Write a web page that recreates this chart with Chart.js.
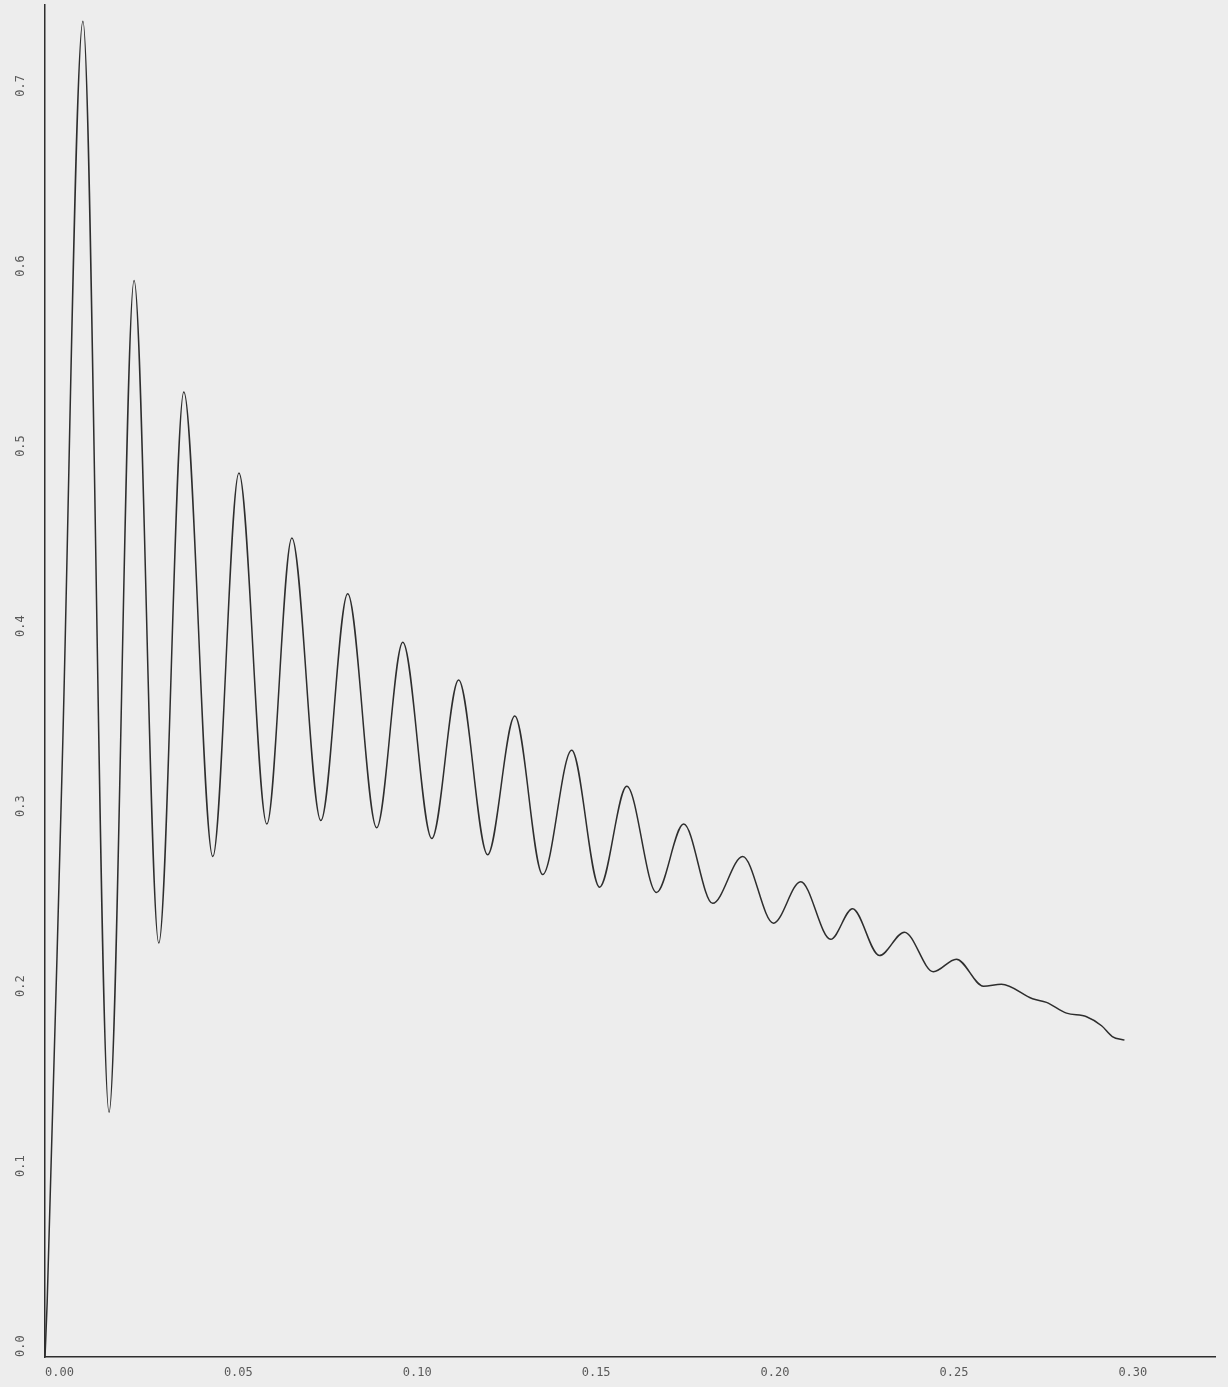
<!DOCTYPE html>
<html>
<head>
<meta charset="utf-8">
<script src="https://cdn.jsdelivr.net/npm/chart.js@4.4.1/dist/chart.umd.min.js"></script>
<style>
  html, body { margin: 0; padding: 0; background: #ededed; }
  #plot { display: block; }
</style>
</head>
<body>
<canvas id="plot" width="1228" height="1387"></canvas>
<script>
// damped response (peaks, troughs and the tail)
var timeValues = [
  0.0000, 0.0006, 0.0047, 0.0106,
  0.0179, 0.0249, 0.0318, 0.0388, 0.0469, 0.0542, 0.0620, 0.0690,
  0.0771, 0.0846, 0.0927, 0.1000, 0.1081, 0.1156, 0.1237, 0.1313,
  0.1391, 0.1472, 0.1550, 0.1626, 0.1709, 0.1785, 0.1866, 0.1950,
  0.2036, 0.2112, 0.2196, 0.2257, 0.2332, 0.2402, 0.2483, 0.2547,
  0.2623, 0.2673, 0.2760, 0.2799, 0.2855, 0.2911, 0.2953, 0.2983, 0.3017
];
var responseValues = [
  0.000, 0.030, 0.321, 0.742,
  0.136, 0.598, 0.230, 0.536, 0.278, 0.491, 0.296, 0.455,
  0.298, 0.424, 0.294, 0.397, 0.288, 0.376, 0.279, 0.356,
  0.268, 0.337, 0.261, 0.317, 0.258, 0.296, 0.252, 0.278,
  0.241, 0.264, 0.232, 0.249, 0.223, 0.236, 0.214, 0.221,
  0.206, 0.207, 0.199, 0.197, 0.191, 0.189, 0.184, 0.178, 0.176
];

var xTickValues = [0.00, 0.05, 0.10, 0.15, 0.20, 0.25, 0.30];
var xTickLabels = ['0.00', '0.05', '0.10', '0.15', '0.20', '0.25', '0.30'];
var yTickValues = [0.0, 0.1, 0.2, 0.3, 0.4, 0.5, 0.6, 0.7];
var yTickLabels = ['0.0', '0.1', '0.2', '0.3', '0.4', '0.5', '0.6', '0.7'];

var INK = '#2e2e2e';
var LABEL_INK = '#5a5a5a';
var LABEL_FONT = '12px "DejaVu Sans Mono", monospace';

var points = timeValues.map(function (t, i) { return { x: t, y: responseValues[i] }; });

// plotter-style labels: left-aligned at the tick, y labels written upward
var plotterLabels = {
  id: 'plotterLabels',
  afterDraw: function (chart) {
    var ctx = chart.ctx;
    var xs = chart.scales.x;
    var ys = chart.scales.y;
    var area = chart.chartArea;
    ctx.save();
    ctx.fillStyle = LABEL_INK;
    ctx.font = LABEL_FONT;
    ctx.textAlign = 'left';
    ctx.textBaseline = 'middle';
    xTickValues.forEach(function (v, i) {
      ctx.fillText(xTickLabels[i], xs.getPixelForValue(v), area.bottom + 16);
    });
    yTickValues.forEach(function (v, i) {
      ctx.save();
      ctx.translate(area.left - 24, ys.getPixelForValue(v));
      ctx.rotate(-Math.PI / 2);
      ctx.fillText(yTickLabels[i], 0, 0);
      ctx.restore();
    });
    ctx.restore();
  }
};

new Chart(document.getElementById('plot'), {
  type: 'line',
  data: {
    datasets: [{
      data: points,
      borderColor: INK,
      borderWidth: 1.5,
      pointRadius: 0,
      fill: false,
      cubicInterpolationMode: 'monotone'
    }]
  },
  options: {
    responsive: false,
    animation: false,
    devicePixelRatio: 1,
    layout: { padding: { left: 45, right: 13, top: 5, bottom: 30 } },
    plugins: { legend: { display: false }, tooltip: { enabled: false } },
    scales: {
      x: {
        type: 'linear', min: 0, max: 0.327,
        grid: { display: false, drawTicks: false },
        border: { color: INK, width: 1.5 },
        ticks: { display: false }
      },
      y: {
        type: 'linear', min: 0, max: 0.751,
        grid: { display: false, drawTicks: false },
        border: { color: INK, width: 1.5 },
        ticks: { display: false }
      }
    }
  },
  plugins: [plotterLabels]
});
</script>
</body>
</html>
